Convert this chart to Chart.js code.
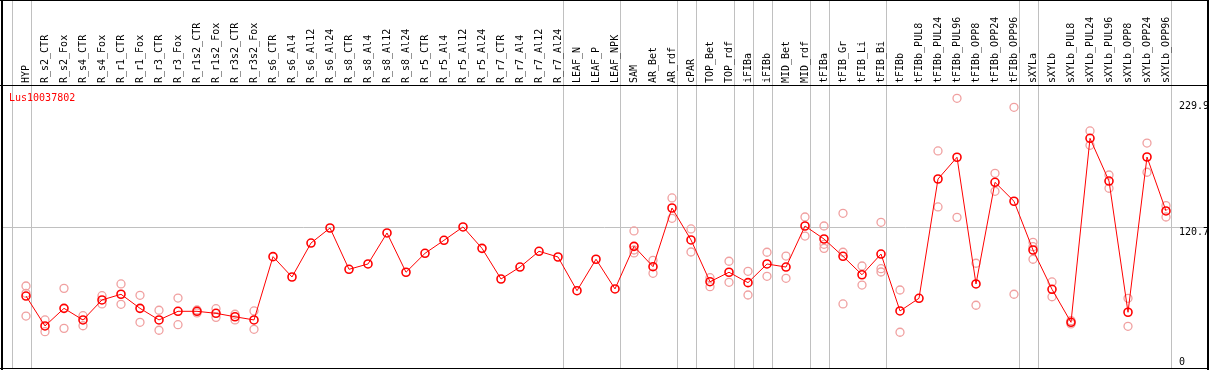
<!DOCTYPE html>
<html>
<head>
<meta charset="utf-8">
<script src="https://cdn.jsdelivr.net/npm/chart.js@4.4.0/dist/chart.umd.min.js"></script>
<style>
    html, body { margin: 0; padding: 0; background: #ffffff; }
    #wrap { width: 1209px; height: 370px; }
</style>
</head>
<body>
<div id="wrap"><canvas id="expr" width="1209" height="370"></canvas></div>
<script>
// ============================================================================
// Data
// ============================================================================

const geneName = 'Lus10037802';

const samples = [
    'HYP', 'R_s2_CTR', 'R_s2_Fox', 'R_s4_CTR', 'R_s4_Fox', 'R_r1_CTR', 'R_r1_Fox',
    'R_r3_CTR', 'R_r3_Fox', 'R_r1s2_CTR', 'R_r1s2_Fox', 'R_r3s2_CTR', 'R_r3s2_Fox',
    'R_s6_CTR', 'R_s6_Al4', 'R_s6_Al12', 'R_s6_Al24', 'R_s8_CTR', 'R_s8_Al4',
    'R_s8_Al12', 'R_s8_Al24', 'R_r5_CTR', 'R_r5_Al4', 'R_r5_Al12', 'R_r5_Al24',
    'R_r7_CTR', 'R_r7_Al4', 'R_r7_Al12', 'R_r7_Al24', 'LEAF_N', 'LEAF_P', 'LEAF_NPK',
    'SAM', 'AR_Bet', 'AR_rdf', 'cPAR', 'TOP_Bet', 'TOP_rdf', 'iFIBa', 'iFIBb',
    'MID_Bet', 'MID_rdf', 'tFIBa', 'tFIB_Gr', 'tFIB_Li', 'tFIB_Bi', 'tFIBb',
    'tFIBb_PUL8', 'tFIBb_PUL24', 'tFIBb_PUL96', 'tFIBb_OPP8', 'tFIBb_OPP24', 'tFIBb_OPP96',
    'sXYLa', 'sXYLb', 'sXYLb_PUL8', 'sXYLb_PUL24', 'sXYLb_PUL96', 'sXYLb_OPP8',
    'sXYLb_OPP24', 'sXYLb_OPP96'
];

// mean expression per sample
const means = [
    62.5, 37.2, 52.1, 42.3, 59.2, 64.0, 52.1, 42.3, 49.6, 49.6, 47.9, 45.0, 42.3,
    95.8, 78.6, 107.3, 120.0, 85.1, 89.6, 115.8, 82.6, 98.6, 109.6, 120.9, 102.8,
    76.9, 87.0, 100.3, 95.5, 67.0, 93.6, 68.5,
    104.5, 87.3, 136.9, 109.9, 74.6, 82.6, 73.8, 89.6, 87.0, 121.7, 110.7,
    96.1, 80.5, 98.0, 49.9, 60.6, 161.4, 179.8, 72.7, 158.6, 142.6,
    101.4, 68.2, 40.3, 195.8, 159.7, 48.8, 180.0, 134.4
];

// individual replicates (null = not shown)
const rep1 = [
    71.0, 42.3, 69.0, 45.9, 62.8, 72.7, 63.1, 50.5, 60.8, 50.7, 51.8, 47.1, 49.9,
    null, null, null, null, null, null, null, null, null, null, null, null,
    null, null, null, null, null, null, null,
    117.5, 92.7, 145.4, 119.2, 78.0, 91.9, 83.4, 99.5, 96.3, 129.3, 121.7,
    132.4, 87.9, 124.8, 67.6, null, 185.1, 229.6, 90.2, 166.2, 222.0,
    107.9, 74.4, 41.7, 202.0, 164.8, 60.6, 191.8, 138.9
];
const rep2 = [
    45.6, 32.4, 35.2, 37.4, 55.8, 55.5, 40.3, 33.6, 38.3, 48.2, 44.5, 42.3, 34.4,
    null, null, null, null, null, null, null, null, null, null, null, null,
    null, null, null, null, null, null, null,
    98.9, 81.7, 128.2, 99.7, 70.4, 74.1, 63.4, 79.2, 77.5, 113.2, 102.8,
    55.8, 71.8, 82.8, 31.9, null, 137.8, 129.0, 54.7, 151.0, 64.0,
    93.6, 61.9, 38.9, 189.9, 153.6, 36.9, 167.1, 129.3
];
const rep3 = [
    64.8, null, null, null, null, null, null, null, null, null, null, null, null,
    null, null, null, null, null, null, null, null, null, null, null, null,
    null, null, null, null, null, null, null,
    101.4, null, null, null, null, null, null, null, null, null, 106.2,
    99.5, null, 85.6, null, null, null, null, null, null, null,
    104.2, null, null, null, null, null, null, null
];

// last sample index of each group (grey separators)
const groupEnds = [-1, 0, 28, 31, 34, 35, 37, 38, 39, 41, 42, 45, 52, 53, 60];

// y reference values shown on the right
const yTicks = [229.9, 120.7, 0];

// ============================================================================
// Helpers
// ============================================================================

const MONO = '10px "DejaVu Sans Mono", monospace';

function toPoints(values) {
    return values.map((v, i) => ({ x: i, y: v }));
}

const framePlugin = {
    id: 'frame',
    beforeDatasetsDraw(chart) {
        const ctx = chart.ctx;
        const xs = chart.scales.x;
        const ys = chart.scales.y;
        const W = chart.width;

        ctx.save();
        ctx.strokeStyle = '#c0c0c0';
        ctx.lineWidth = 1;

        // group separators run through the header too
        groupEnds.forEach(k => {
            const px = Math.round(xs.getPixelForValue(k + 0.25)) + 0.5;
            ctx.beginPath();
            ctx.moveTo(px, 0);
            ctx.lineTo(px, 369);
            ctx.stroke();
        });

        // middle reference line
        const py = Math.round(ys.getPixelForValue(yTicks[1])) + 0.5;
        ctx.beginPath();
        ctx.moveTo(2, py);
        ctx.lineTo(W - 2, py);
        ctx.stroke();
        ctx.restore();
    },
    afterDatasetsDraw(chart) {
        const ctx = chart.ctx;
        const xs = chart.scales.x;
        const ys = chart.scales.y;
        const W = chart.width;

        ctx.save();

        // outer box + header rule
        ctx.fillStyle = '#000000';
        ctx.fillRect(0, 0, W, 1);
        ctx.fillRect(1, 0, 2, 370);
        ctx.fillRect(W - 2, 0, 2, 370);
        ctx.fillRect(0, 368, W, 1);
        ctx.fillRect(0, 85, W, 1);

        // sample names, rotated
        ctx.font = MONO;
        ctx.fillStyle = '#000000';
        ctx.textAlign = 'left';
        ctx.textBaseline = 'middle';
        samples.forEach((name, i) => {
            const px = xs.getPixelForValue(i);
            ctx.save();
            ctx.translate(px, 83);
            ctx.rotate(-Math.PI / 2);
            ctx.fillText(name, 0, 0);
            ctx.restore();
        });

        // gene name
        ctx.fillStyle = '#ff0000';
        ctx.textBaseline = 'middle';
        ctx.fillText(geneName, 9, 98);

        // right-hand value labels
        ctx.fillStyle = '#000000';
        ctx.textAlign = 'left';
        ctx.textBaseline = 'top';
        ctx.fillText(yTicks[0].toFixed(1), 1179, ys.getPixelForValue(yTicks[0]) + 3);
        ctx.fillText(yTicks[1].toFixed(1), 1179, ys.getPixelForValue(yTicks[1]) + 0);
        ctx.textBaseline = 'bottom';
        ctx.fillText(String(yTicks[2]), 1179, ys.getPixelForValue(yTicks[2]) - 3);

        ctx.restore();
    }
};

// ============================================================================
// Chart
// ============================================================================

function repDataset(values) {
    return {
        data: toPoints(values),
        showLine: false,
        borderColor: '#f0a0a0',
        backgroundColor: 'rgba(0,0,0,0)',
        pointRadius: 4,
        pointBorderWidth: 1.3,
        pointHoverRadius: 4
    };
}

function renderChart() {
    const ctx = document.getElementById('expr');

    // 19 px per sample, first sample at x = 26
    const xMin = -26 / 19;
    const xMax = xMin + 1209 / 19;

    new Chart(ctx, {
        type: 'line',
        data: {
            datasets: [
                {
                    data: toPoints(means),
                    borderColor: '#ff0000',
                    borderWidth: 1,
                    backgroundColor: 'rgba(0,0,0,0)',
                    pointRadius: 4,
                    pointBorderWidth: 1.6,
                    pointBorderColor: '#ff0000',
                    tension: 0
                },
                repDataset(rep1),
                repDataset(rep2),
                repDataset(rep3)
            ]
        },
        options: {
            responsive: false,
            animation: false,
            devicePixelRatio: 1,
            clip: false,
            layout: {
                autoPadding: false,
                padding: { top: 86, left: 0, right: 0, bottom: 0 }
            },
            plugins: {
                legend: { display: false },
                tooltip: { enabled: false }
            },
            scales: {
                x: { type: 'linear', display: false, min: xMin, max: xMax },
                y: { type: 'linear', display: false, min: 0, max: 240 }
            }
        },
        plugins: [framePlugin]
    });
}

document.addEventListener('DOMContentLoaded', renderChart);
</script>
</body>
</html>
